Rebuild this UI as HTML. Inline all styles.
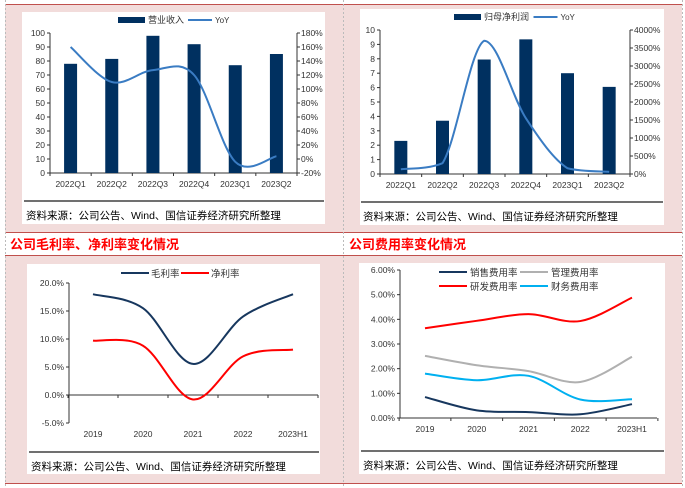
<!DOCTYPE html>
<html><head><meta charset="utf-8">
<style>
html,body{margin:0;padding:0;background:#fff;}
svg{display:block;font-family:"Liberation Sans","Noto Sans CJK SC",sans-serif;}
</style></head>
<body>
<svg id="s" width="685" height="488" viewBox="0 0 685 488" xmlns="http://www.w3.org/2000/svg">
<g>
<rect x="5" y="4" width="677" height="229" fill="#f2dcdb"/>
<rect x="5" y="255" width="677" height="229" fill="#f2dcdb"/>
<line x1="5" y1="4.5" x2="682" y2="4.5" stroke="#c0504d" stroke-width="1"/>
<line x1="5" y1="232.5" x2="682" y2="232.5" stroke="#c0504d" stroke-width="1"/>
<line x1="5" y1="255.5" x2="682" y2="255.5" stroke="#c0504d" stroke-width="1"/>
<line x1="5" y1="483.5" x2="682" y2="483.5" stroke="#c0504d" stroke-width="1"/>
<line x1="343.5" y1="0" x2="343.5" y2="488" stroke="#bbb" stroke-dasharray="2,2"/>
<line x1="5.5" y1="0" x2="5.5" y2="488" stroke="#bbb" stroke-dasharray="2,2"/>
<line x1="682.5" y1="0" x2="682.5" y2="488" stroke="#bbb" stroke-dasharray="2,2"/>
<rect x="22" y="12" width="303" height="212" fill="#fff"/>
<rect x="360" y="9" width="304" height="216" fill="#fff"/>
<rect x="27" y="264" width="293" height="210" fill="#fff"/>
<rect x="359" y="263" width="306" height="211" fill="#fff"/>
</g>
<text x="10" y="249" font-size="13" font-weight="bold" fill="#ff0000">公司毛利率、净利率变化情况</text>
<text x="349" y="249" font-size="13" font-weight="bold" fill="#ff0000">公司费用率变化情况</text>
<g id="c1"></g>
<g id="c2"></g>
<g id="c3"></g>
<g id="c4"></g>
</svg>
<script>
const quarters=["2022Q1","2022Q2","2022Q3","2022Q4","2023Q1","2023Q2"];
const revenue=[78,81.5,98,92,77,85];
const revenueYoy=[160,110,127,120,-4,4];
const revLeftTicks=[0,10,20,30,40,50,60,70,80,90,100];
const revRightTicks=[-20,0,20,40,60,80,100,120,140,160,180];
const netProfit=[2.3,3.7,7.95,9.35,7.0,6.05];
const netProfitYoy=[130,300,3700,1550,160,60];
const npLeftTicks=[0,1,2,3,4,5,6,7,8,9,10];
const npRightTicks=[0,500,1000,1500,2000,2500,3000,3500,4000];
const years=["2019","2020","2021","2022","2023H1"];
const grossMargin=[18.0,15.5,5.55,14.0,18.0];
const netMargin=[9.7,8.8,-0.8,6.9,8.1];
const marginTicks=[-5,0,5,10,15,20];
const salesRate=[0.85,0.31,0.24,0.15,0.56];
const adminRate=[2.52,2.14,1.9,1.46,2.48];
const rdRate=[3.64,3.94,4.21,3.93,4.88];
const finRate=[1.8,1.53,1.71,0.75,0.76];
const expTicks=[0,1,2,3,4,5,6];

const NS="http://www.w3.org/2000/svg";
function mk(p,tag,at){const e=document.createElementNS(NS,tag);for(const k in at)e.setAttribute(k,at[k]);p.appendChild(e);return e;}
function lin(d0,d1,r0,r1){return v=>r0+(v-d0)/(d1-d0)*(r1-r0);}
function smooth(pts,clamp){let d="M"+pts[0][0]+","+pts[0][1];for(let i=0;i<pts.length-1;i++){const p0=pts[i-1]||pts[i],p1=pts[i],p2=pts[i+1],p3=pts[i+2]||p2;let c1=[p1[0]+(p2[0]-p0[0])/6,p1[1]+(p2[1]-p0[1])/6],c2=[p2[0]-(p3[0]-p1[0])/6,p2[1]-(p3[1]-p1[1])/6];if(clamp){const lo=Math.min(p1[1],p2[1]),hi=Math.max(p1[1],p2[1]);c1[1]=Math.max(lo,Math.min(hi,c1[1]));c2[1]=Math.max(lo,Math.min(hi,c2[1]));}d+=" C"+c1+" "+c2+" "+p2;}return d;}
function txt(g,x,y,s,fs,anchor,fill){const t=mk(g,"text",{x:x,y:y,"font-size":fs,"text-anchor":anchor||"start",fill:fill||"#333"});t.textContent=s;return t;}
function source(g,x1,x2,ly){mk(g,"line",{x1:x1,y1:ly,x2:x2,y2:ly,stroke:"#404040","stroke-width":1.5});const t=txt(g,x1+2,ly+18,"资料来源：公司公告、Wind、国信证券经济研究所整理",10.5,"start","#000");}

function barChart(g,cats,bars,yoy,lt,rt,L,R,T,B,fmtR,legendName,lx,clamp){
  const yL=lin(lt[0],lt[lt.length-1],B,T),yR=lin(rt[0],rt[rt.length-1],B,T);
  const bw=(R-L)/cats.length;
  mk(g,"line",{x1:L,y1:T,x2:L,y2:B,stroke:"#333"});
  mk(g,"line",{x1:R,y1:T,x2:R,y2:B,stroke:"#333"});
  mk(g,"line",{x1:L,y1:B,x2:R,y2:B,stroke:"#333"});
  lt.forEach(v=>{const y=yL(v);mk(g,"line",{x1:L-3,y1:y,x2:L,y2:y,stroke:"#333"});const t=txt(g,L-5,y+3,String(v),8.5,"end");});
  rt.forEach(v=>{const y=yR(v);mk(g,"line",{x1:R,y1:y,x2:R+3,y2:y,stroke:"#333"});const t=txt(g,R+4,y+3,fmtR(v),8.5,"start");});
  for(let i=0;i<=cats.length;i++){const x=L+i*bw;mk(g,"line",{x1:x,y1:B,x2:x,y2:B+3,stroke:"#333"});}
  cats.forEach((c,i)=>{const cx=L+(i+.5)*bw;const r=mk(g,"rect",{x:cx-6.5,y:yL(bars[i]),width:13,height:B-yL(bars[i]),fill:"#003060"});const t=txt(g,cx,B+14,c,8.5,"middle");});
  const p=mk(g,"path",{d:smooth(yoy.map((v,i)=>[L+(i+.5)*bw,yR(v)]),clamp),fill:"none",stroke:"#3a7cc3","stroke-width":2});
  
  const lg=mk(g,"g",{});
  mk(lg,"rect",{x:lx,y:T-16,width:27,height:6,fill:"#003060"});
  const w=legendName.length*9.5;
  txt(lg,lx+30,T-10,legendName,9,"start");
  mk(lg,"line",{x1:lx+32+w,y1:T-13,x2:lx+56+w,y2:T-13,stroke:"#3a7cc3","stroke-width":2});
  txt(lg,lx+59+w,T-10,"YoY",8,"start");
}
barChart(document.getElementById("c1"),quarters,revenue,revenueYoy,revLeftTicks,revRightTicks,50,297,33,173,v=>v+"%","营业收入",118,false);
source(document.getElementById("c1"),24,324,201);
barChart(document.getElementById("c2"),quarters,netProfit,netProfitYoy,npLeftTicks,npRightTicks,380,630,30,174,v=>v+"%","归母净利润",454,true);
source(document.getElementById("c2"),361,663,202);

function lineChart(g,cats,series,ticks,L,R,T,B,zeroY,c0,c1,fmt,lblY){
  const y=lin(ticks[0],ticks[ticks.length-1],B,T);
  const x=i=>c0+i*(c1-c0)/(cats.length-1);
  const step=(c1-c0)/(cats.length-1);
  mk(g,"line",{x1:L,y1:T,x2:L,y2:B,stroke:"#333"});
  const ay=y(zeroY);
  mk(g,"line",{x1:L,y1:ay,x2:R,y2:ay,stroke:"#333"});
  ticks.forEach(v=>{const yy=y(v);mk(g,"line",{x1:L-3,y1:yy,x2:L,y2:yy,stroke:"#333"});const t=txt(g,L-5,yy+3,fmt(v),8.5,"end");});
  for(let i=0;i<=cats.length;i++){const xx=x(0)-step/2+i*step;mk(g,"line",{x1:xx,y1:ay,x2:xx,y2:ay+3,stroke:"#333"});}
  cats.forEach((c,i)=>{const t=txt(g,x(i),lblY,c,8.5,"middle");});
  series.forEach(s=>{const p=mk(g,"path",{d:smooth(s.v.map((v,i)=>[x(i),y(v)])),fill:"none",stroke:s.c,"stroke-width":2});});
}
const g3=document.getElementById("c3");
lineChart(g3,years,[{v:grossMargin,c:"#17375e",n:"gross-margin-line"},{v:netMargin,c:"#ff0000",n:"net-margin-line"}],marginTicks,69,318,283,423,0,93,293,v=>v.toFixed(1)+"%",437);
(function(){const lg=mk(g3,"g",{});
mk(lg,"line",{x1:121,y1:273,x2:149,y2:273,stroke:"#17375e","stroke-width":2});txt(lg,151,277,"毛利率",9.5);
mk(lg,"line",{x1:181,y1:273,x2:209,y2:273,stroke:"#ff0000","stroke-width":2});txt(lg,211,277,"净利率",9.5);})();
source(g3,29,319,452);
const g4=document.getElementById("c4");
lineChart(g4,years,[{v:salesRate,c:"#17375e",n:"sales-rate-line"},{v:adminRate,c:"#b0b0b0",n:"admin-rate-line"},{v:rdRate,c:"#ff0000",n:"rd-rate-line"},{v:finRate,c:"#00b0f0",n:"finance-rate-line"}],expTicks,400,657,270,418,0,425,632,v=>v.toFixed(2)+"%",432);
(function(){const lg=mk(g4,"g",{});
const items=[["销售费用率","#17375e",439,272],["管理费用率","#b0b0b0",520,272],["研发费用率","#ff0000",439,286],["财务费用率","#00b0f0",520,286]];
items.forEach(it=>{mk(lg,"line",{x1:it[2],y1:it[3],x2:it[2]+28,y2:it[3],stroke:it[1],"stroke-width":2});txt(lg,it[2]+31,it[3]+4,it[0],9.5);});})();
source(g4,361,664,451);
</script>
</body></html>
